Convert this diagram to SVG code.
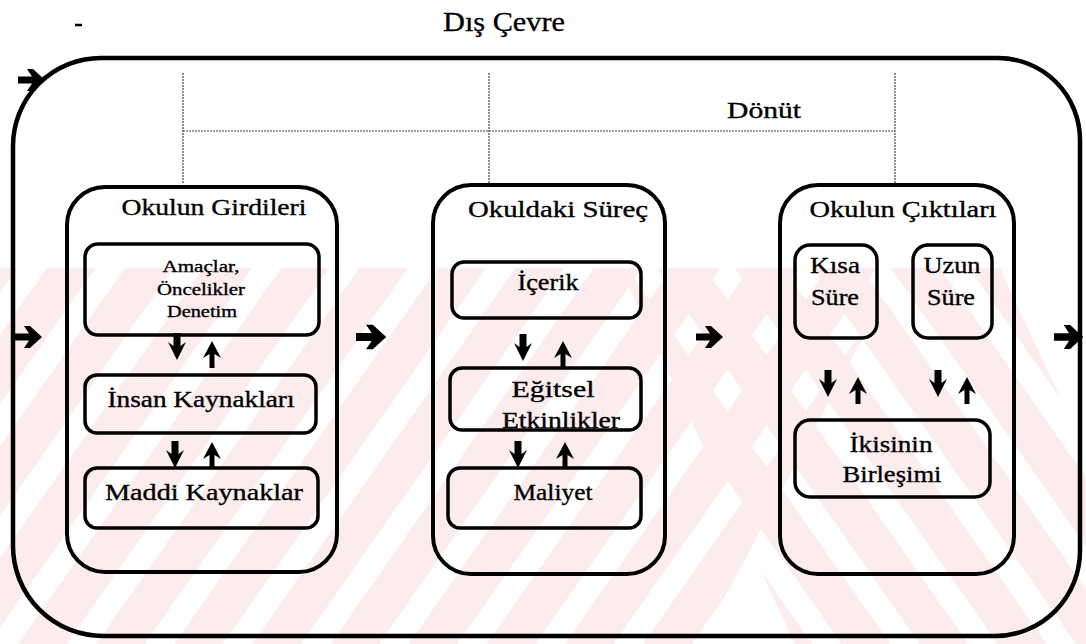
<svg xmlns="http://www.w3.org/2000/svg" width="1086" height="644" viewBox="0 0 1086 644">
<defs>
  <pattern id="wmA" width="64" height="64" patternUnits="userSpaceOnUse" patternTransform="rotate(35)"><rect width="40" height="64" fill="#fcecee"/></pattern>
  <pattern id="wmB" width="64" height="64" patternUnits="userSpaceOnUse" patternTransform="rotate(-35)"><rect width="40" height="64" fill="#fcecee"/></pattern>
  <path id="harrow" d="M0,-3.5 H14 L9,-11 H15 L27,0 L15,11 H9 L14,3.5 H0 Z" fill="#000"/>
  <path id="darrow" d="M-3.5,0 H3.5 V13 L9,9 L0,27 L-9,9 L-3.5,13 Z" fill="#000"/>
  <path id="uarrow" d="M-2.5,0 V-14 L-9,-10 L0,-27 L9,-10 L2.5,-14 V0 Z" fill="#000"/>
</defs>
<style>
  .frame{fill:none;stroke:#000;stroke-width:4.5}
  .box{fill:none;stroke:#000;stroke-width:4}
  .sub{fill:none;stroke:#000;stroke-width:3.5}
  .fb{fill:none;stroke:#444;stroke-width:1.2;stroke-dasharray:2 1}
  .t,.s,.h{font-family:'Liberation Serif',serif;fill:#000;stroke:#000;stroke-width:0.35;text-anchor:middle}
  .t{font-size:23px}
  .s{font-size:17px}
  .h{font-size:27px}
</style>
<rect width="1086" height="644" fill="#fff"/>
<g id="watermark">
  <polygon points="0,268 900,268 700,644 0,644" fill="url(#wmA)"/>
  <polygon points="620,268 1000,268 1175,644 795,644" fill="url(#wmB)"/>
</g>
<g id="environment">
  <path class="frame" d="M101,58 H998 A82,82 0 0 1 1080,140 V551 A85,85 0 0 1 995,636 H103 A90,90 0 0 1 13,546 V146 A88,88 0 0 1 101,58 Z"/>
  <line x1="75" y1="25" x2="82" y2="25" stroke="#000" stroke-width="2.5"/>
  <text class="h" x="504" y="31" textLength="122" lengthAdjust="spacingAndGlyphs">Dış Çevre</text>
</g>
<g id="connectors">
  <path class="fb" d="M183,73 V184 M489,73 V184 M895,73 V184 M183,131 H895"/>
  <text class="t" x="764" y="118" style="font-size:24px" textLength="74" lengthAdjust="spacingAndGlyphs">Dönüt</text>
  <use href="#harrow" transform="translate(18,80)"/>
  <use href="#harrow" transform="translate(15,337)"/>
  <use href="#harrow" transform="translate(356,337) scale(1.12)"/>
  <use href="#harrow" transform="translate(696,337)"/>
  <use href="#harrow" transform="translate(1054,337) scale(1.08)"/>
  <use href="#darrow" x="177" y="333"/>
  <use href="#uarrow" x="212" y="368"/>
  <use href="#darrow" x="175" y="441"/>
  <use href="#uarrow" x="212" y="469"/>
  <use href="#darrow" x="523" y="334"/>
  <use href="#uarrow" x="563" y="368"/>
  <use href="#darrow" x="518" y="441"/>
  <use href="#uarrow" x="565" y="469"/>
  <use href="#darrow" x="828" y="370"/>
  <use href="#uarrow" x="858" y="404"/>
  <use href="#darrow" x="938" y="370"/>
  <use href="#uarrow" x="967" y="404"/>
</g>
<g id="inputs">
  <rect class="box" x="67" y="187" width="270" height="385" rx="38"/>
  <text class="t" x="214" y="215" textLength="185" lengthAdjust="spacingAndGlyphs">Okulun Girdileri</text>
  <g id="amaclar">
    <rect class="sub" x="85" y="244" width="234" height="91" rx="13"/>
    <text class="s" x="201" y="272" textLength="77" lengthAdjust="spacingAndGlyphs">Amaçlar,</text>
    <text class="s" x="201" y="295" textLength="88" lengthAdjust="spacingAndGlyphs">Öncelikler</text>
    <text class="s" x="202" y="317" textLength="70" lengthAdjust="spacingAndGlyphs">Denetim</text>
  </g>
  <g id="insan">
    <rect class="sub" x="85" y="375" width="231" height="58" rx="12"/>
    <text class="t" x="201" y="407" textLength="187" lengthAdjust="spacingAndGlyphs">İnsan Kaynakları</text>
  </g>
  <g id="maddi">
    <rect class="sub" x="85" y="468" width="233" height="60" rx="12"/>
    <text class="t" x="204" y="500" textLength="198" lengthAdjust="spacingAndGlyphs">Maddi Kaynaklar</text>
  </g>
</g>
<g id="process">
  <rect class="box" x="433" y="185" width="232" height="389" rx="38"/>
  <text class="t" x="558" y="217" textLength="180" lengthAdjust="spacingAndGlyphs">Okuldaki Süreç</text>
  <g id="icerik">
    <rect class="sub" x="452" y="262" width="189" height="56" rx="12"/>
    <text class="t" x="548" y="290" textLength="61" lengthAdjust="spacingAndGlyphs">İçerik</text>
  </g>
  <g id="egitsel">
    <rect class="sub" x="450" y="368" width="191" height="62" rx="12"/>
    <text class="t" x="553" y="397" textLength="83" lengthAdjust="spacingAndGlyphs">Eğitsel</text>
    <text class="t" x="561" y="428" textLength="118" lengthAdjust="spacingAndGlyphs">Etkinlikler</text>
  </g>
  <g id="maliyet">
    <rect class="sub" x="448" y="468" width="193" height="60" rx="12"/>
    <text class="t" x="553" y="500" textLength="79" lengthAdjust="spacingAndGlyphs">Maliyet</text>
  </g>
</g>
<g id="outputs">
  <rect class="box" x="780" y="185" width="234" height="389" rx="38"/>
  <text class="t" x="903" y="217" textLength="187" lengthAdjust="spacingAndGlyphs">Okulun Çıktıları</text>
  <g id="kisa">
    <rect class="sub" x="795" y="245" width="82" height="93" rx="15"/>
    <text class="t" x="835" y="273" textLength="50" lengthAdjust="spacingAndGlyphs">Kısa</text>
    <text class="t" x="835" y="305" textLength="48" lengthAdjust="spacingAndGlyphs">Süre</text>
  </g>
  <g id="uzun">
    <rect class="sub" x="913" y="245" width="79" height="93" rx="15"/>
    <text class="t" x="952" y="273" textLength="57" lengthAdjust="spacingAndGlyphs">Uzun</text>
    <text class="t" x="951" y="305" textLength="48" lengthAdjust="spacingAndGlyphs">Süre</text>
  </g>
  <g id="ikisinin">
    <rect class="sub" x="795" y="420" width="195" height="77" rx="15"/>
    <text class="t" x="891" y="452" textLength="83" lengthAdjust="spacingAndGlyphs">İkisinin</text>
    <text class="t" x="892" y="482" textLength="99" lengthAdjust="spacingAndGlyphs">Birleşimi</text>
  </g>
</g>
</svg>
